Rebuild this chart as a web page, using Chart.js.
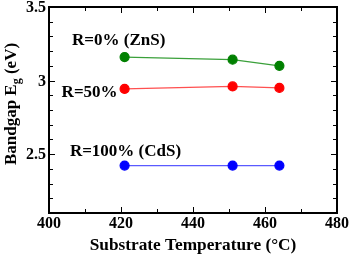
<!DOCTYPE html>
<html><head><meta charset="utf-8">
<script src="https://cdn.jsdelivr.net/npm/chart.js@4/dist/chart.umd.min.js"></script>
<style>html,body{margin:0;padding:0;background:#fff}#c{display:block}</style>
</head><body>
<canvas id="c" width="350" height="254"></canvas>
<script>
// Data
const temperatures = [421, 451, 464];
const r0ZnS = [3.16, 3.142, 3.10];
const r50 = [2.943, 2.96, 2.95];
const r100CdS = [2.422, 2.422, 2.422];
const xTickLabels = [400, 420, 440, 460, 480];
const yTickLabels = [2.5, 3, 3.5];
const seriesNames = ['R=0% (ZnS)', 'R=50%', 'R=100% (CdS)'];
// annotation anchors (data coords, left/middle)
const labelAnchors = [[406.4, 3.27], [403.5, 2.92], [405.8, 2.52]];

const SERIF = '"Liberation Serif","Times New Roman",serif';
const toPts = ys => temperatures.map((t, i) => ({x: t, y: ys[i]}));

const decor = {
  id: 'decor',
  afterDatasetsDraw(chart) {
    const ctx = chart.ctx, a = chart.chartArea, xs = chart.scales.x, ys = chart.scales.y;
    ctx.save();
    ctx.strokeStyle = '#000';
    ctx.lineWidth = 2;
    ctx.strokeRect(a.left, a.top, a.right - a.left, a.bottom - a.top);
    ctx.lineWidth = 1;
    ctx.beginPath();
    for (let v = 400; v <= 480; v += 10) {
      const p = Math.round(xs.getPixelForValue(v)) + 0.5;
      const L = (v % 20 === 0) ? 6 : 4;
      ctx.moveTo(p, a.bottom); ctx.lineTo(p, a.bottom - L);
      ctx.moveTo(p, a.top); ctx.lineTo(p, a.top + L);
    }
    for (let k = 21; k <= 35; k++) {
      const v = k / 10;
      const p = Math.round(ys.getPixelForValue(v)) + 0.5;
      const L = (k % 5 === 0) ? 6 : 4;
      ctx.moveTo(a.left, p); ctx.lineTo(a.left + L, p);
      ctx.moveTo(a.right, p); ctx.lineTo(a.right - L, p);
    }
    ctx.stroke();
    // tick labels
    ctx.fillStyle = '#000';
    ctx.font = 'bold 16px ' + SERIF;
    ctx.textAlign = 'center'; ctx.textBaseline = 'alphabetic';
    xTickLabels.forEach(v => ctx.fillText(String(v), xs.getPixelForValue(v), 228));
    ctx.textAlign = 'right'; ctx.textBaseline = 'middle';
    yTickLabels.forEach(v => ctx.fillText(String(v), a.left - 3, ys.getPixelForValue(v) + 1));
    // x title
    ctx.textAlign = 'center'; ctx.textBaseline = 'alphabetic';
    ctx.font = 'bold 17.3px ' + SERIF;
    ctx.fillText('Substrate Temperature (°C)', (a.left + a.right) / 2, 250);
    // y title with subscript
    ctx.save();
    ctx.translate(16, 104);
    ctx.rotate(-Math.PI / 2);
    const p1 = 'Bandgap E', p2 = 'g', p3 = ' (eV)';
    ctx.font = 'bold 17px ' + SERIF;
    const w1 = ctx.measureText(p1).width, w3 = ctx.measureText(p3).width;
    ctx.font = 'bold 12px ' + SERIF;
    const w2 = ctx.measureText(p2).width;
    let x0 = -(w1 + w2 + w3) / 2;
    ctx.textAlign = 'left'; ctx.textBaseline = 'alphabetic';
    ctx.font = 'bold 17px ' + SERIF;
    ctx.fillText(p1, x0, 0);
    ctx.font = 'bold 12px ' + SERIF;
    ctx.fillText(p2, x0 + w1, 4);
    ctx.font = 'bold 17px ' + SERIF;
    ctx.fillText(p3, x0 + w1 + w2, 0);
    ctx.restore();
    // series labels
    ctx.font = 'bold 17px ' + SERIF;
    ctx.textAlign = 'left'; ctx.textBaseline = 'middle';
    seriesNames.forEach((n, i) => {
      ctx.fillText(n, xs.getPixelForValue(labelAnchors[i][0]), ys.getPixelForValue(labelAnchors[i][1]));
    });
    ctx.restore();
  }
};

new Chart(document.getElementById('c'), {
  type: 'line',
  data: {
    datasets: [
      {label: seriesNames[0], data: toPts(r0ZnS), borderColor: '#3aa03a', backgroundColor: '#008000', pointBackgroundColor: '#008000', pointBorderColor: '#008000', borderWidth: 1.2, pointRadius: 4.5},
      {label: seriesNames[1], data: toPts(r50), borderColor: '#ff5050', backgroundColor: '#ff0000', pointBackgroundColor: '#ff0000', pointBorderColor: '#ff0000', borderWidth: 1.2, pointRadius: 4.5},
      {label: seriesNames[2], data: toPts(r100CdS), borderColor: '#5a5aff', backgroundColor: '#0000ff', pointBackgroundColor: '#0000ff', pointBorderColor: '#0000ff', borderWidth: 1.2, pointRadius: 4.5}
    ]
  },
  options: {
    responsive: false,
    animation: false,
    events: [],
    layout: {padding: {top: 7, right: 13, left: 0, bottom: 0}},
    plugins: {legend: {display: false}, tooltip: {enabled: false}},
    scales: {
      x: {type: 'linear', min: 400, max: 480,
        grid: {display: false}, border: {display: false}, ticks: {display: false},
        afterFit: s => { s.height = 41; }},
      y: {type: 'linear', min: 2.1, max: 3.5,
        grid: {display: false}, border: {display: false}, ticks: {display: false},
        afterFit: s => { s.width = 49; }}
    }
  },
  plugins: [decor]
});
</script>
</body></html>
